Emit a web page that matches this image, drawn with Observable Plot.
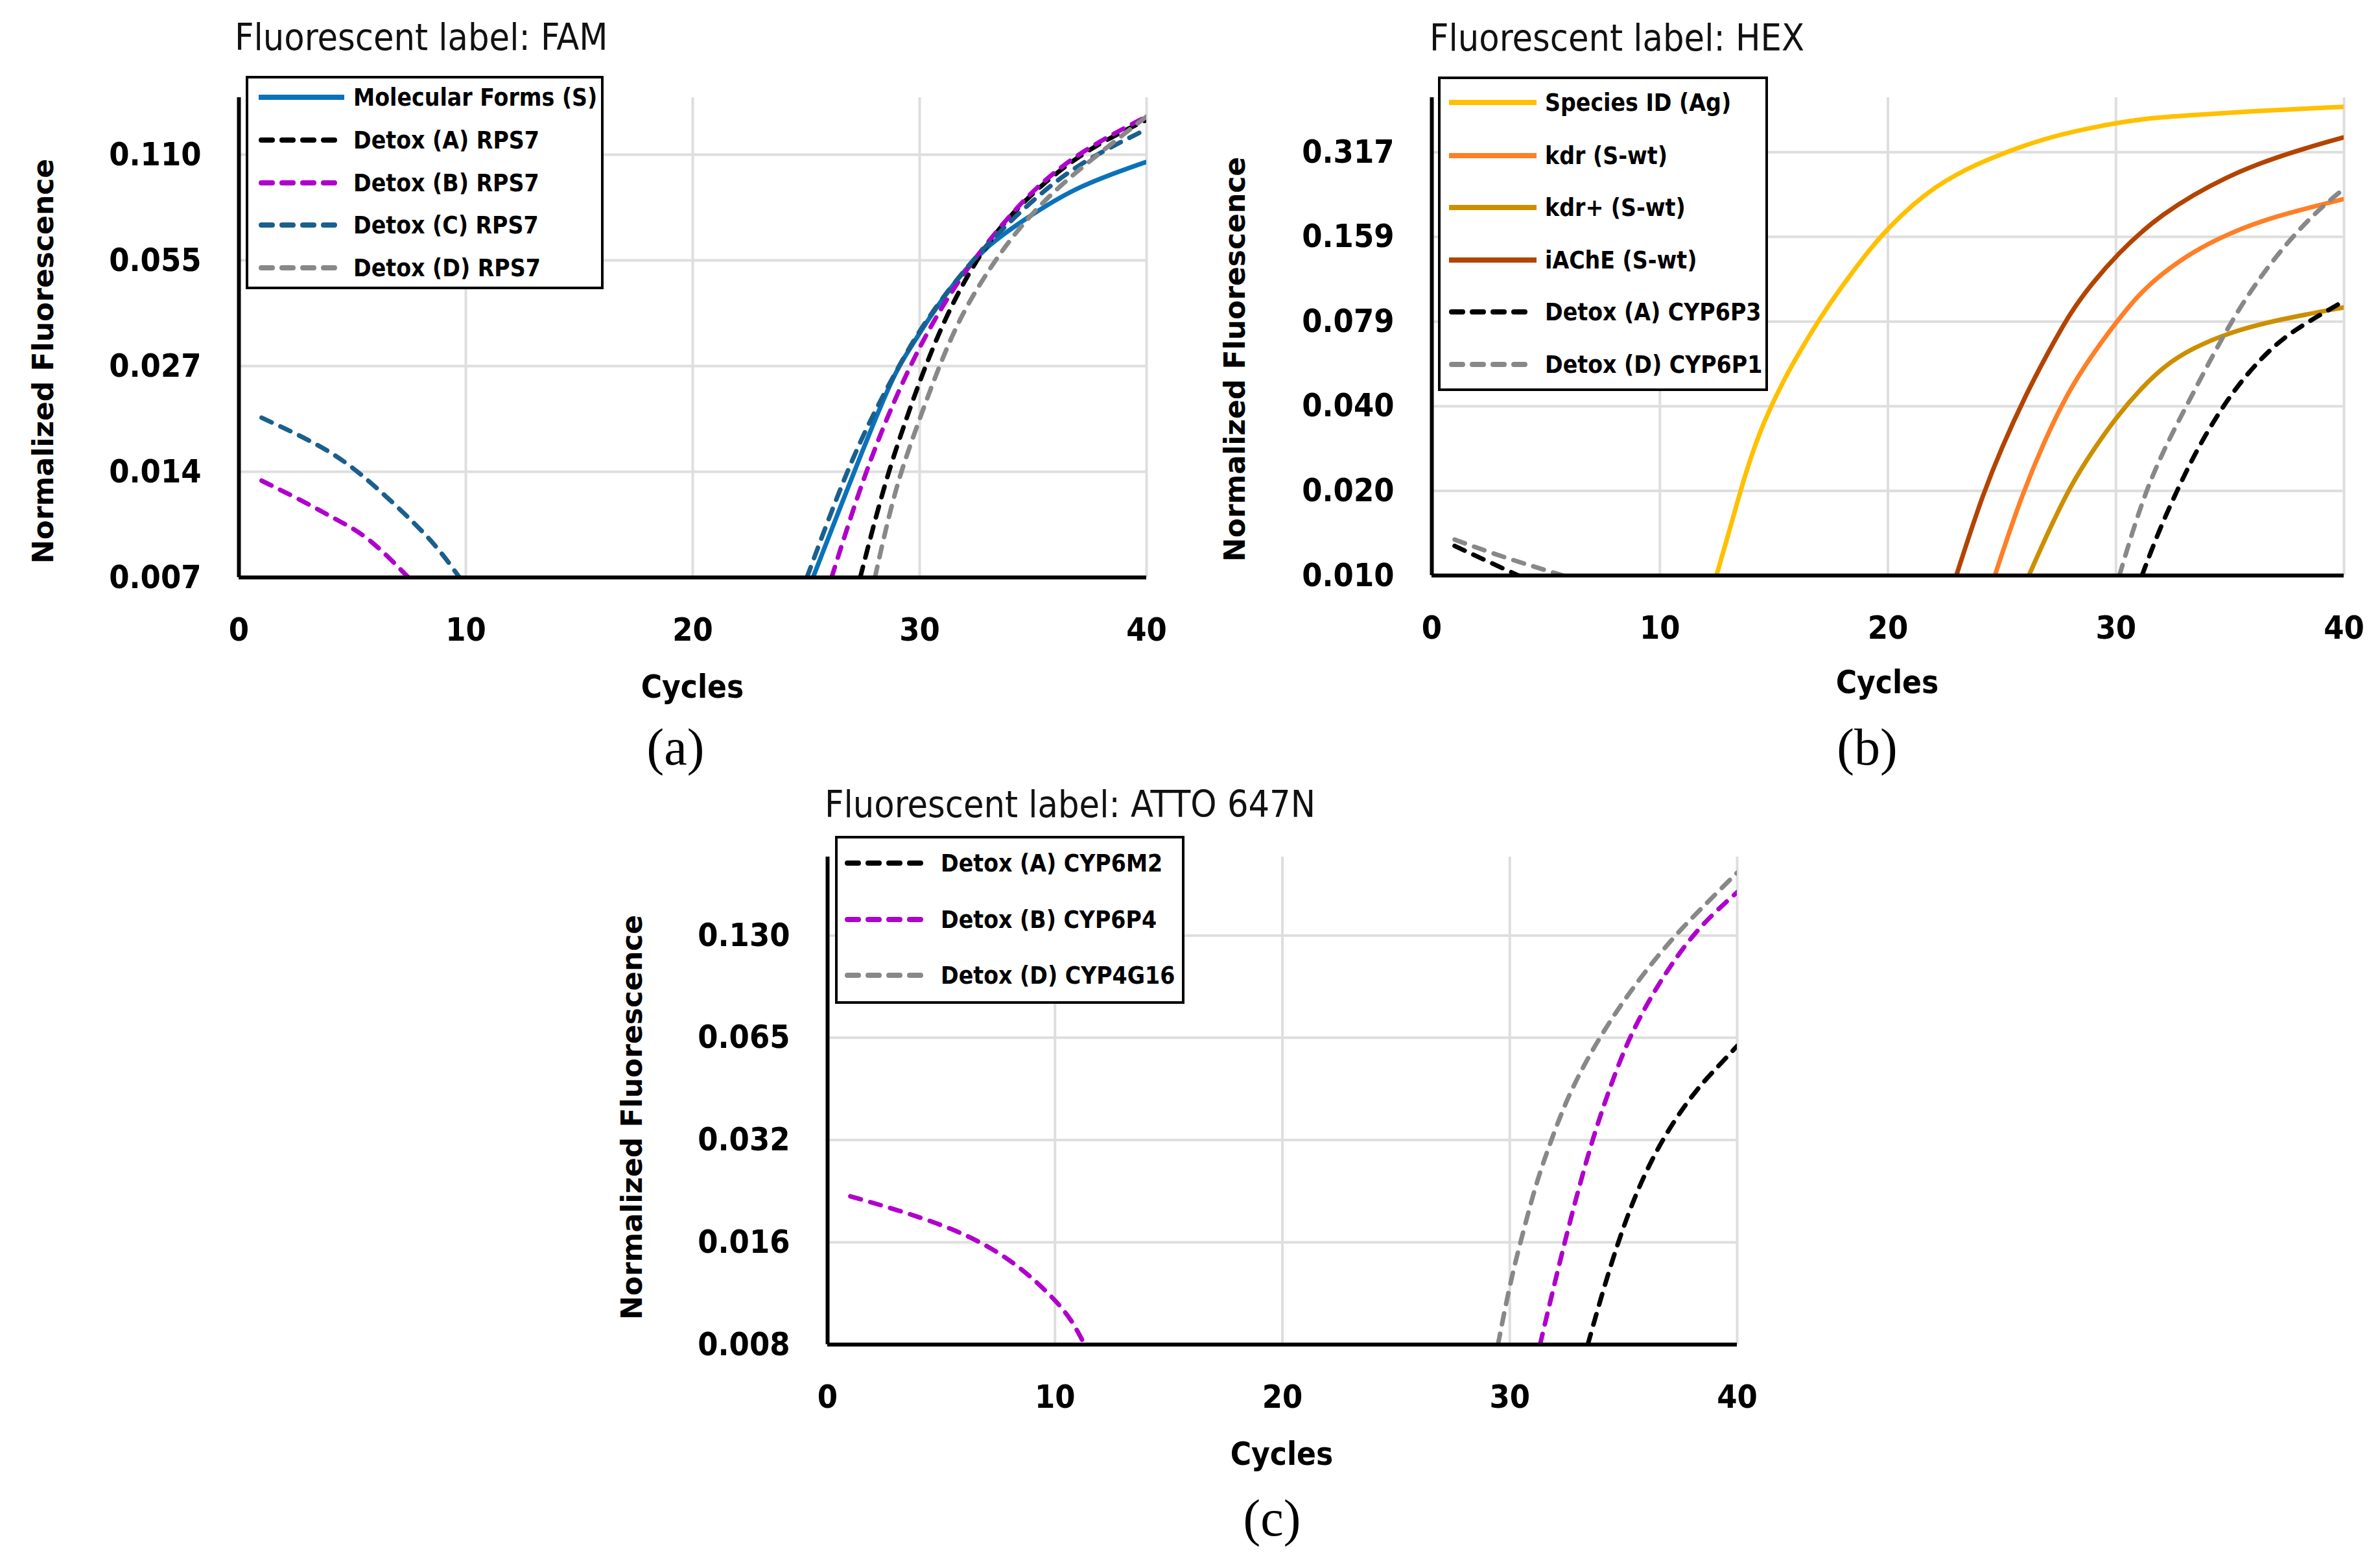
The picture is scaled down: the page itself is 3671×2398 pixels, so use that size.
<!DOCTYPE html>
<html>
<head>
<meta charset="utf-8">
<script src="https://cdn.jsdelivr.net/npm/d3@7"></script>
<script src="https://cdn.jsdelivr.net/npm/@observablehq/plot@0.6"></script>
<style>
  body { margin: 0; background: #fff; }
  #root { position: relative; width: 3671px; height: 2398px; background: #fff; overflow: hidden; }
  .abs { position: absolute; white-space: nowrap; line-height: 1; }
  .narrow { font-family: "Liberation Sans Narrow", "Arial Narrow", "DejaVu Sans Condensed", "Liberation Sans", sans-serif; }
  .title { font-size: 57px; font-weight: normal; color: #111; transform: translateY(-50%); }
  .ylab { font-family: "DejaVu Sans", Verdana, sans-serif; font-weight: bold; font-size: 44px; transform: translate(-50%, -50%) rotate(-90deg); }
  .xlab { font-weight: bold; font-size: 49px; transform: translate(-50%, -50%); }
  .cap { font-family: "Liberation Serif", "DejaVu Serif", serif; font-size: 80px; transform: translate(-50%, -50%); }
  .legend { position: absolute; box-sizing: border-box; border: 4px solid #000; background: #fff; }
  .legend .lt { position: absolute; font-weight: bold; font-size: 37px; white-space: nowrap; line-height: 1; transform: translateY(-50%); }
  .legend svg { position: absolute; overflow: visible; }
  .plot { position: absolute; }
</style>
</head>
<body>
<div id="root"></div>
<script>
// ---------------- shared ----------------
const xTicks = [0, 10, 20, 30, 40];
const xGrid = [10, 20, 30, 40];

// ---------------- (a) FAM ----------------
const famYTicks = [0.006875, 0.01375, 0.0275, 0.055, 0.11];
const famYLabels = ["0.007", "0.014", "0.027", "0.055", "0.110"];
const famYTop = 0.16;
const famNames = ["Molecular Forms (S)", "Detox (A) RPS7", "Detox (B) RPS7", "Detox (C) RPS7", "Detox (D) RPS7"];
const famColors = ["#0A72BA", "#000000", "#B000CC", "#1A5F8E", "#888888"];
const famDashed = [false, true, true, true, true];

const famMolCycles = [25.3, 26.72, 27.71, 28.91, 29.6, 30.33, 31.64, 33.06, 34.70, 36.89, 40];
const famMolValues = [0.006875, 0.01184, 0.0172, 0.0265, 0.0310, 0.0370, 0.0488, 0.0614, 0.0725, 0.0893, 0.105];
const famACycles = [27.38, 28.47, 29.46, 30.22, 31.21, 32.41, 33.61, 35.25, 37.44, 40];
const famAValues = [0.006875, 0.0129, 0.0199, 0.0272, 0.0388, 0.0542, 0.0696, 0.0893, 0.1148, 0.1383];
const famBEarlyCycles = [1, 3.0, 4.3, 5.7, 7.47];
const famBEarlyValues = [0.01297, 0.0112, 0.01004, 0.0090, 0.006875];
const famBCycles = [26.12, 27.27, 28.36, 29.46, 30.55, 31.86, 33.17, 34.70, 36.89, 40];
const famBValues = [0.006875, 0.01184, 0.0183, 0.0266, 0.0365, 0.0499, 0.0640, 0.0839, 0.111, 0.1413];
const famCEarlyCycles = [1, 3.67, 5.35, 7.37, 8.71, 9.72];
const famCEarlyValues = [0.0196, 0.0163, 0.01369, 0.01036, 0.00847, 0.006875];
const famCCycles = [25.03, 26.28, 27.38, 28.58, 29.89, 31.42, 32.85, 34.70, 36.89, 40];
const famCValues = [0.006875, 0.01135, 0.0169, 0.0240, 0.0342, 0.0468, 0.0601, 0.0788, 0.1033, 0.130];
const famDCycles = [28.03, 28.91, 29.89, 30.88, 31.86, 33.06, 34.27, 35.80, 37.98, 40];
const famDValues = [0.006875, 0.01235, 0.0186, 0.0278, 0.0388, 0.0520, 0.0668, 0.0857, 0.112, 0.1413];

// ---------------- (b) HEX ----------------
const hexYTicks = [0.00990625, 0.0198125, 0.039625, 0.07925, 0.1585, 0.317];
const hexYLabels = ["0.010", "0.020", "0.040", "0.079", "0.159", "0.317"];
const hexYTop = 0.496;
const hexNames = ["Species ID (Ag)", "kdr (S-wt)", "kdr+ (S-wt)", "iAChE (S-wt)", "Detox (A) CYP6P3", "Detox (D) CYP6P1"];
const hexColors = ["#FFC000", "#FF7F27", "#CC8F00", "#B34400", "#000000", "#888888"];
const hexDashed = [false, false, false, false, true, true];

const hexSpeciesCycles = [12.48, 13.05, 13.81, 14.57, 15.42, 16.37, 17.32, 18.26, 19.21, 20.0, 21.11, 22.06, 23.01, 23.95, 24.90, 25.85, 26.80, 27.75, 28.70, 30.02, 31.54, 32.93, 36.91, 40];
const hexSpeciesValues = [0.00991, 0.01428, 0.0239, 0.0352, 0.0491, 0.0669, 0.0888, 0.1135, 0.1435, 0.1700, 0.2075, 0.2380, 0.2645, 0.2885, 0.3105, 0.3320, 0.3518, 0.3690, 0.3843, 0.4030, 0.4199, 0.4281, 0.4482, 0.4598];
const hexKdrCycles = [24.69, 25.78, 26.84, 27.90, 28.96, 30.02, 30.95, 32.00, 33.33, 34.92, 36.91, 40];
const hexKdrValues = [0.00991, 0.0183, 0.0296, 0.0446, 0.0605, 0.0790, 0.0980, 0.1172, 0.1398, 0.1629, 0.1874, 0.2163];
const hexKdrPlusCycles = [26.18, 27.10, 28.03, 28.96, 30.02, 31.08, 32.14, 33.33, 34.92, 36.91, 40];
const hexKdrPlusValues = [0.00991, 0.01459, 0.0208, 0.0274, 0.0363, 0.0457, 0.0553, 0.0636, 0.0722, 0.0800, 0.0890];
const hexAchECycles = [23.0, 24.06, 24.98, 26.04, 26.97, 28.03, 28.96, 30.02, 31.87, 34.92, 37.57, 40];
const hexAchEValues = [0.00991, 0.0183, 0.0282, 0.0434, 0.0605, 0.0862, 0.1085, 0.1365, 0.1898, 0.2639, 0.3155, 0.3584];
const hexAEarlyCycles = [1, 2.37, 3.79];
const hexAEarlyValues = [0.01262, 0.0112, 0.00991];
const hexACycles = [31.14, 31.87, 32.67, 33.46, 34.39, 35.32, 36.38, 37.44, 38.76, 39.82];
const hexAValues = [0.00991, 0.01422, 0.0198, 0.0269, 0.0363, 0.0468, 0.0589, 0.0705, 0.0820, 0.0920];
const hexDEarlyCycles = [1, 3.15, 5.74];
const hexDEarlyValues = [0.01329, 0.01149, 0.00991];
const hexDCycles = [30.15, 30.81, 31.47, 32.27, 33.20, 34.26, 35.32, 36.51, 37.96, 39.16, 40];
const hexDValues = [0.00991, 0.01496, 0.0213, 0.0296, 0.0413, 0.0605, 0.0862, 0.1201, 0.1670, 0.2071, 0.2352];

// ---------------- (c) ATTO 647N ----------------
const attoYTicks = [0.008125, 0.01625, 0.0325, 0.065, 0.13];
const attoYLabels = ["0.008", "0.016", "0.032", "0.065", "0.130"];
const attoYTop = 0.2214;
const attoNames = ["Detox (A) CYP6M2", "Detox (B) CYP6P4", "Detox (D) CYP4G16"];
const attoColors = ["#000000", "#B000CC", "#888888"];
const attoDashed = [true, true, true];

const attoACycles = [33.43, 34.04, 34.71, 35.37, 36.13, 37.09, 38.23, 39.18, 40];
const attoAValues = [0.008125, 0.01135, 0.0159, 0.0211, 0.0276, 0.0360, 0.0460, 0.0537, 0.0615];
const attoBEarlyCycles = [1, 3.11, 5.18, 6.91, 8.46, 9.84, 10.71, 11.30];
const attoBEarlyValues = [0.0222, 0.0202, 0.01816, 0.0161, 0.01377, 0.01132, 0.00969, 0.008125];
const attoBCycles = [31.33, 31.95, 32.52, 33.09, 33.66, 34.33, 35.09, 35.95, 36.90, 38.04, 39.18, 40];
const attoBValues = [0.008125, 0.01214, 0.01736, 0.0242, 0.0330, 0.0450, 0.0615, 0.0801, 0.1022, 0.1306, 0.1560, 0.1743];
const attoDCycles = [29.48, 30.05, 30.62, 31.19, 31.86, 32.52, 33.47, 34.61, 35.85, 37.28, 38.70, 40];
const attoDValues = [0.008125, 0.01270, 0.01775, 0.0247, 0.0330, 0.0431, 0.0575, 0.0766, 0.1000, 0.1306, 0.1631, 0.199];

// ---------------- helpers ----------------
const NARROW = '"Liberation Sans Narrow", "Arial Narrow", "DejaVu Sans Condensed", "Liberation Sans", sans-serif';
const LINE_W = 7;
const DASH = "17,15";

function rows(segment, cycles, values) {
  return cycles.map((c, i) => ({segment, cycle: c, value: values[i]}));
}
function labelFor(ticks, labels) {
  return d => {
    const i = ticks.findIndex(t => Math.abs(t - d) <= t * 1e-6);
    return i >= 0 ? labels[i] : "";
  };
}

function makePanel(cfg) {
  const marks = [
    Plot.gridX(xGrid, {stroke: "#dedede", strokeOpacity: 1, strokeWidth: 4}),
    Plot.gridY(cfg.yTicks.slice(1), {stroke: "#dedede", strokeOpacity: 1, strokeWidth: 4}),
    Plot.ruleX([0], {stroke: "#000", strokeWidth: 6}),
  ];
  cfg.series.forEach((segs, k) => {
    const data = segs.flatMap((s, j) => rows(j, s[0], s[1]));
    marks.push(Plot.line(data, {
      x: "cycle", y: "value", z: "segment",
      stroke: cfg.colors[k], strokeWidth: LINE_W,
      strokeDasharray: cfg.dashed[k] ? DASH : null,
      strokeLinecap: cfg.dashed[k] ? "round" : "butt",
      curve: "basis", clip: true
    }));
  });
  marks.push(Plot.ruleY([cfg.yTicks[0]], {stroke: "#000", strokeWidth: 6}));
  marks.push(Plot.axisX(xTicks, {tickSize: 0, tickPadding: 62, label: null, fontSize: 50, fontWeight: "bold"}));
  marks.push(Plot.axisY(cfg.yTicks, {tickSize: 0, tickPadding: 58, label: null, fontSize: 50, fontWeight: "bold",
    tickFormat: labelFor(cfg.yTicks, cfg.yLabels)}));
  const svg = Plot.plot({
    width: cfg.width, height: cfg.height,
    marginLeft: cfg.m[0], marginRight: cfg.m[1], marginTop: cfg.m[2], marginBottom: cfg.m[3],
    x: {domain: [0, 40]},
    y: {type: "log", domain: [cfg.yTicks[0], cfg.yTop]},
    style: {fontFamily: NARROW, fontSize: "50px", fontWeight: "bold", color: "#000", background: "transparent", overflow: "visible"},
    marks
  });
  svg.classList.add("plot");
  svg.style.left = cfg.left + "px";
  svg.style.top = cfg.top + "px";
  return svg;
}

const root = document.getElementById("root");
function addText(cls, text, x, y) {
  const d = document.createElement("div");
  d.className = "abs " + cls;
  d.textContent = text;
  d.style.left = x + "px";
  d.style.top = y + "px";
  root.appendChild(d);
  return d;
}
function addLegend(box, names, colors, dashed, rowsY, sample, textX) {
  const L = document.createElement("div");
  L.className = "legend";
  L.style.left = box[0] + "px"; L.style.top = box[1] + "px";
  L.style.width = box[2] + "px"; L.style.height = box[3] + "px";
  names.forEach((n, i) => {
    const ns = "http://www.w3.org/2000/svg";
    const s = document.createElementNS(ns, "svg");
    s.setAttribute("width", sample[1] - sample[0]);
    s.setAttribute("height", 10);
    s.style.left = (sample[0] - 4) + "px";
    s.style.top = (rowsY[i] - 4 - 5) + "px";
    const l = document.createElementNS(ns, "line");
    l.setAttribute("x1", dashed[i] ? 4 : 0); l.setAttribute("x2", sample[1] - sample[0] - (dashed[i] ? 4 : 0));
    l.setAttribute("y1", 5); l.setAttribute("y2", 5);
    l.setAttribute("stroke", colors[i]);
    l.setAttribute("stroke-width", LINE_W + 1);
    if (dashed[i]) { l.setAttribute("stroke-dasharray", DASH); l.setAttribute("stroke-linecap", "round"); }
    s.appendChild(l);
    L.appendChild(s);
    const t = document.createElement("div");
    t.className = "lt narrow";
    t.textContent = n;
    t.style.left = (textX - 4) + "px";
    t.style.top = (rowsY[i] - 4) + "px";
    L.appendChild(t);
  });
  root.appendChild(L);
}

// ---------------- build panels ----------------
root.appendChild(makePanel({
  left: 0, top: 0, width: 1840, height: 1100, m: [368, 72, 150, 210],
  yTicks: famYTicks, yLabels: famYLabels, yTop: famYTop,
  colors: famColors, dashed: famDashed,
  series: [
    [[famMolCycles, famMolValues]],
    [[famACycles, famAValues]],
    [[famBEarlyCycles, famBEarlyValues], [famBCycles, famBValues]],
    [[famCEarlyCycles, famCEarlyValues], [famCCycles, famCValues]],
    [[famDCycles, famDValues]]
  ]
}));
root.appendChild(makePanel({
  left: 1840, top: 0, width: 1831, height: 1100, m: [368, 56, 150, 213],
  yTicks: hexYTicks, yLabels: hexYLabels, yTop: hexYTop,
  colors: hexColors, dashed: hexDashed,
  series: [
    [[hexSpeciesCycles, hexSpeciesValues]],
    [[hexKdrCycles, hexKdrValues]],
    [[hexKdrPlusCycles, hexKdrPlusValues]],
    [[hexAchECycles, hexAchEValues]],
    [[hexAEarlyCycles, hexAEarlyValues], [hexACycles, hexAValues]],
    [[hexDEarlyCycles, hexDEarlyValues], [hexDCycles, hexDValues]]
  ]
}));
root.appendChild(makePanel({
  left: 900, top: 1150, width: 1850, height: 1248, m: [376, 71, 171, 325],
  yTicks: attoYTicks, yLabels: attoYLabels, yTop: attoYTop,
  colors: attoColors, dashed: attoDashed,
  series: [
    [[attoACycles, attoAValues]],
    [[attoBEarlyCycles, attoBEarlyValues], [attoBCycles, attoBValues]],
    [[attoDCycles, attoDValues]]
  ]
}));

// ---------------- text ----------------
addText("narrow title", "Fluorescent label: FAM", 362, 57);
addText("narrow title", "Fluorescent label: HEX", 2205, 58);
addText("narrow title", "Fluorescent label: ATTO 647N", 1272, 1240);

addText("ylab", "Normalized Fluorescence", 67, 557);
addText("ylab", "Normalized Fluorescence", 1905, 554);
addText("ylab", "Normalized Fluorescence", 975, 1723);

addText("narrow xlab", "Cycles", 1068, 1059);
addText("narrow xlab", "Cycles", 2911, 1052);
addText("narrow xlab", "Cycles", 1977, 2242);

addText("cap", "(a)", 1042, 1152);
addText("cap", "(b)", 2880, 1152);
addText("cap", "(c)", 1962, 2341);

addLegend([379, 117, 552, 329], famNames, famColors, famDashed, [33, 99, 165, 230, 296], [20, 152], 166);
addLegend([2218, 118, 509, 485], hexNames, hexColors, hexDashed, [40, 122, 202, 283, 363, 444], [17, 152], 165);
addLegend([1288, 1289, 539, 259], attoNames, attoColors, attoDashed, [42, 129, 215], [15, 151], 163);
</script>
</body>
</html>
